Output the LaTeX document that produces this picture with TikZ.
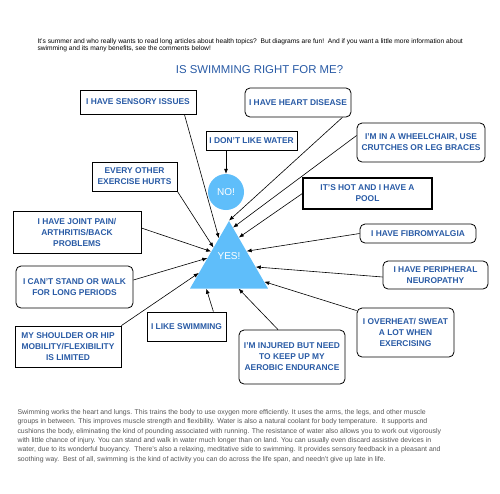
\documentclass[tikz,border=0pt]{standalone}
\usepackage{fontspec}
\setmainfont{Liberation Sans}
\usetikzlibrary{arrows.meta, shapes.geometric}

\begin{document}
\begin{tikzpicture}[x = 1pt, y = -1pt,
    sqbox/.style = {draw, rectangle, line width = 0.8pt, align = center, text = myblue, font = \fontsize{8.4}{11}\selectfont\bfseries, inner sep = 1pt},
    rndbox/.style = {sqbox, rounded corners = 5pt},
    toyes/.style = {-{Latex[length = 5pt, width = 4pt]}, line width = 0.6pt}]
        \useasboundingbox (0, 0) rectangle (500, 493);
        \definecolor{myblue}{RGB}{40,90,165}
        \definecolor{myskyblue}{RGB}{95,190,250}
        \definecolor{mygray}{RGB}{85,85,85}

        \node[anchor = north west, align = left, font = \fontsize{6.65}{7.6}\selectfont] at (34, 35) (intro) {It's summer and who really wants to read long articles about health topics?\ \ But diagrams are fun!\ \ And if you want a little more information about\\ swimming and its many benefits, see the comments below!};
        \node[text = myblue, font = \fontsize{11.4}{13}\selectfont] at (259.5, 70) (title) {IS SWIMMING RIGHT FOR ME?};

        % the two answers
        \node[draw = none, fill = myskyblue, regular polygon, regular polygon sides = 3, minimum size = 90, inner sep = 0pt, label = {[text = white, yshift = 10pt, font = \fontsize{10}{12}\selectfont]center:YES!}] at (229, 266) (yes) {};
        \node[circle, fill = myskyblue, minimum size = 36, inner sep = 0pt, text = white, font = \fontsize{10}{12}\selectfont] at (226, 192) (no) {NO!};

        % the reasons
        \node[sqbox, minimum width = 116, minimum height = 24] at (138, 102) (sensory) {I HAVE SENSORY ISSUES};
        \node[rndbox, minimum width = 106, minimum height = 29] at (298, 102.5) (heart) {I HAVE HEART DISEASE};
        \node[sqbox, minimum width = 91, minimum height = 19] at (251.5, 140.5) (water) {I DON’T LIKE WATER};
        \node[rndbox, minimum width = 128, minimum height = 39] at (421, 142.5) (wheel) {I’M IN A WHEELCHAIR, USE\\ CRUTCHES OR LEG BRACES};
        \node[sqbox, minimum width = 85, minimum height = 29] at (134.5, 176.5) (hurts) {EVERY OTHER\\ EXERCISE HURTS};
        \node[sqbox, line width = 1.3pt, minimum width = 129, minimum height = 31] at (367.5, 193.5) (hot) {IT’S HOT AND I HAVE A\\ POOL};
        \node[sqbox, minimum width = 128, minimum height = 42] at (77, 232) (joint) {I HAVE JOINT PAIN/\\ ARTHRITIS/BACK\\ PROBLEMS};
        \node[rndbox, minimum width = 116, minimum height = 19] at (418, 233.5) (fibro) {I HAVE FIBROMYALGIA};
        \node[rndbox, minimum width = 117, minimum height = 42] at (74.5, 287) (stand) {I CAN’T STAND OR WALK\\ FOR LONG PERIODS};
        \node[rndbox, minimum width = 105, minimum height = 28] at (435.5, 275) (neuro) {I HAVE PERIPHERAL\\ NEUROPATHY};
        \node[sqbox, minimum width = 106, minimum height = 41] at (68, 346.5) (mobility) {MY SHOULDER OR HIP\\ MOBILITY/FLEXIBILITY\\ IS LIMITED};
        \node[sqbox, minimum width = 79, minimum height = 29] at (186.5, 326.5) (like) {I LIKE SWIMMING};
        \node[rndbox, minimum width = 97, minimum height = 49] at (405.5, 332.5) (sweat) {I OVERHEAT/ SWEAT\\ A LOT WHEN\\ EXERCISING};
        \node[rndbox, minimum width = 106, minimum height = 54] at (292, 357) (injured) {I’M INJURED BUT NEED\\ TO KEEP UP MY\\ AEROBIC ENDURANCE};

        % arrows
        \draw[toyes] (water.south -| no.north) -- (no.north);
        \draw[toyes] ([xshift = -12pt] sensory.south east) -- (yes.110);
        \draw[toyes] (hurts.south east) -- (yes.130);
        \draw[toyes] ([yshift = 4pt] joint.east) -- (yes.141);
        \draw[toyes] ([yshift = 7pt] stand.east) -- (yes.160);
        \draw[toyes] (mobility.north east) -- (yes.193);
        \draw[toyes] ([xshift = -13pt] like.north east) -- (yes.225);
        \draw[toyes] ([xshift = -14pt] injured.north) -- (yes.293);
        \draw[toyes] ([yshift = -3pt] sweat.north west) -- (yes.336);
        \draw[toyes] ([yshift = -2pt] neuro.west) -- (yes.358);
        \draw[toyes] (fibro.west) -- (yes.40);
        \draw[toyes] (hot.west) -- (yes.71);
        \draw[toyes] ([yshift = 7pt] wheel.west) -- (yes.84);
        \draw[toyes] ([xshift = -9pt] heart.south east) -- (yes.90);

        \node[anchor = north west, align = left, text = mygray, font = \fontsize{6.9}{9.3}\selectfont] at (14, 406) (about) {Swimming works the heart and lungs. This trains the body to use oxygen more efficiently. It uses the arms, the legs, and other muscle\\ groups in between. This improves muscle strength and flexibility. Water is also a natural coolant for body temperature.\ \ It supports and\\ cushions the body, eliminating the kind of pounding associated with running. The resistance of water also allows you to work out vigorously\\ with little chance of injury. You can stand and walk in water much longer than on land. You can usually even discard assistive devices in\\ water, due to its wonderful buoyancy.\ \ There's also a relaxing, meditative side to swimming. It provides sensory feedback in a pleasant and\\ soothing way.\ \ Best of all, swimming is the kind of activity you can do across the life span, and needn't give up late in life.};
\end{tikzpicture}
\end{document}
